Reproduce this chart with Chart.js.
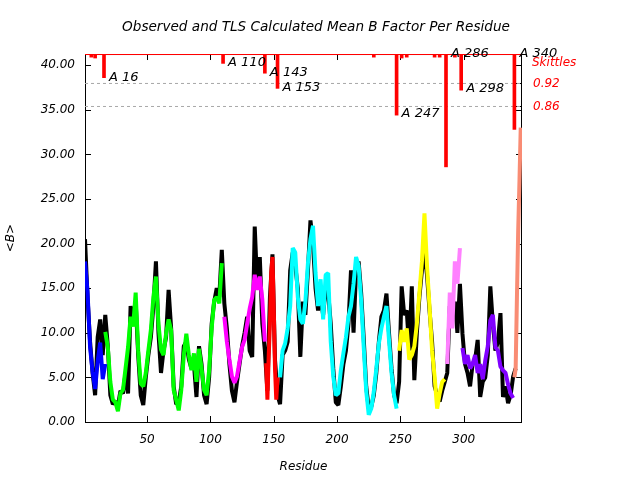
<!DOCTYPE html>
<html>
<head>
<meta charset="utf-8">
<script src="https://cdn.jsdelivr.net/npm/chart.js@4.4.0/dist/chart.umd.min.js"></script>
<style>
  html, body { margin: 0; padding: 0; background: #fff; }
</style>
</head>
<body>
<canvas id="chart" width="640" height="480"></canvas>
<script>
const X_MIN = 1, X_MAX = 346, Y_MAX = 41.25;
const FONT = 'DejaVu Sans';

// observed mean B, every second residue from 1
const OBS_START = 1, OBS_STEP = 2;
const observed = [
    20.5, 14.0, 9.0, 5.5, 3.0, 9.5, 11.5, 7.5, 12.0, 8.5,
    3.0, 2.0, 2.3, 1.8, 3.5, 3.2, 5.5, 3.2, 13.0, 11.5,
    13.5, 7.5, 3.0, 1.9, 5.0, 7.5, 9.5, 13.0, 18.0, 10.0,
    5.5, 8.0, 9.5, 14.8, 10.5, 4.0, 2.0, 2.2, 4.0, 8.5,
    9.0, 7.0, 6.0, 6.5, 2.8, 8.5, 6.5, 3.0, 2.0, 5.0,
    11.0, 13.5, 15.0, 14.0, 19.3, 13.3, 10.5, 6.5, 3.5, 2.2,
    4.5, 6.5, 8.5, 10.0, 11.8, 8.0, 7.3, 21.9, 15.0, 18.5,
    11.0, 8.0, 3.5, 14.0, 18.8, 7.0, 3.0, 2.0, 7.5, 8.0,
    9.0, 17.0, 19.0, 17.5, 15.0, 7.3, 13.5, 12.0, 17.0, 22.6,
    20.0, 15.0, 12.5, 14.0, 12.0, 15.0, 14.5, 11.0, 6.0, 2.2,
    1.9, 4.0, 6.5, 8.0, 11.0, 17.0, 10.0, 17.0, 18.0, 14.5,
    9.5, 4.0, 1.5, 1.7, 3.0, 5.5, 9.0, 11.8, 12.5, 14.4,
    10.0, 6.0, 3.0, 2.1, 4.5, 15.2, 12.0, 12.5, 8.0, 15.2,
    4.7, 10.0, 14.0, 17.0, 19.0, 16.5, 12.5, 9.0, 4.0, 3.0,
    2.3, 3.5, 4.5, 5.5, 13.0, 12.0, 13.5, 10.0, 15.5, 9.9,
    6.5, 5.5, 4.0, 6.5, 7.0, 9.2, 2.8, 4.5, 5.0, 7.5,
    15.2, 11.0, 8.0, 9.0, 12.2, 2.8, 4.0, 2.1, 3.0, 5.1,
    6.0,
];

// TLS calculated B, one array per TLS group
const tlsBlue = [18.0, 14.6, 8.4, 5.6, 3.7, 6.8, 8.9, 4.8, 6.5];
const tlsGreen = [
    10.1, 8.4, 4.5, 2.5, 2.2, 1.2, 3.2, 3.6, 6.0, 8.4,
    11.8, 10.7, 14.5, 8.0, 4.3, 4.0, 5.5, 8.0, 10.3, 14.0,
    16.3, 11.0, 8.1, 7.5, 9.9, 11.5, 10.3, 3.6, 2.5, 1.3,
    3.6, 7.5, 9.9, 7.5, 5.8, 7.7, 4.5, 8.2, 6.0, 3.6,
    3.0, 5.8, 10.5, 13.7, 14.0, 13.3, 17.8,
];
const tlsMagenta = [11.8, 9.0, 7.0, 5.1, 4.4, 5.1, 6.8, 8.4, 9.2, 11.0, 12.7, 14.0, 16.5, 14.8, 16.3, 13.7, 9.0];
const tlsRed = [6.6, 2.5, 7.3, 11.0, 16.7, 18.5, 12.9, 6.0, 2.5, 5.0];
const tlsCyan = [
    5.0, 8.0, 8.8, 10.5, 13.0, 19.5, 19.0, 14.0, 11.5, 11.0,
    13.5, 17.8, 20.5, 22.0, 16.7, 13.0, 16.0, 11.5, 16.5, 16.7,
    9.0, 5.1, 3.0, 3.2, 5.8, 7.7, 9.5, 11.8, 13.0, 15.5,
    18.5, 17.5, 13.7, 8.5, 3.5, 0.8, 1.5, 3.4, 6.0, 8.8,
    10.5, 11.8, 13.0, 9.2, 5.5, 3.0, 1.5,
];
const tlsYellow = [8.0, 10.3, 9.0, 10.5, 7.0, 7.5, 8.5, 11.0, 14.5, 18.0, 23.4, 17.5, 12.9, 8.0, 5.1, 1.5, 3.2, 4.5, 4.8];
const tlsPink = [6.5, 14.5, 10.5, 18.0, 15.5, 19.5];
const tlsPurple = [8.3, 6.5, 7.5, 6.0, 6.5, 7.5, 5.5, 6.5, 4.8, 6.9, 8.5, 11.4, 12.0, 8.4, 8.0, 6.2, 5.8, 5.5, 4.2, 3.2, 2.7];
const tlsSalmon = [5.0, 6.0, 14.0, 21.5, 27.0, 33.0];

const tlsGroups = [tlsBlue, tlsGreen, tlsMagenta, tlsRed, tlsCyan, tlsYellow, tlsPink, tlsPurple, tlsSalmon];
const tlsStarts = [1, 17, 111, 144, 155, 249, 287, 299, 340];
const tlsSteps = [2, 2, 2, 1, 2, 2, 2, 2, 1];
const tlsColors = ['#0000ff', '#00ff00', '#ff00ff', '#ff0000', '#00ffff', '#ffff00', '#ff80ff', '#8000ff', '#f98c74'];

// Skittles group breaks (red spikes from the top)
const breakResidues = [6, 9, 16, 110, 143, 153, 229, 247, 251, 255, 277, 281, 286, 293, 298, 340];
const breakLows = [40.9, 40.8, 38.6, 40.2, 39.1, 37.4, 40.9, 34.4, 40.8, 40.9, 40.9, 40.9, 28.6, 40.9, 37.2, 32.8];
const breakNames = ['', '', 'A 16', 'A 110', 'A 143', 'A 153', '', 'A 247', '', '', '', '', 'A 286', '', 'A 298', 'A 340'];
const breakLabelY = [0, 0, 38.6, 40.3, 39.2, 37.5, 0, 34.6, 0, 0, 0, 0, 41.25, 0, 37.4, 41.25];

// Skittles cutoff levels
const cutoffValues = [37.95, 35.37];
const cutoffNames = ['0.92', '0.86'];
const SKITTLES_Y = 40.3;


function toPoints(values, start, step) {
    return values.map((v, k) => ({x: start + k * step, y: v}));
}

const datasets = [];

datasets.push({
    type: 'line',
    label: 'Observed',
    data: toPoints(observed, OBS_START, OBS_STEP),
    borderColor: '#000000',
    borderWidth: 4,
    order: 3,
});

tlsGroups.forEach((vals, k) => {
    datasets.push({
        type: 'line',
        label: 'TLS ' + (k + 1),
        data: toPoints(vals, tlsStarts[k], tlsSteps[k]),
        borderColor: tlsColors[k],
        borderWidth: 4,
        order: 2,
    });
});

cutoffValues.forEach((v) => {
    datasets.push({
        type: 'line',
        data: [{x: X_MIN, y: v}, {x: X_MAX, y: v}],
        borderColor: '#a8a8a8',
        borderWidth: 1,
        borderDash: [3, 3],
        order: 4,
    });
});

datasets.push({
    type: 'line',
    data: [{x: X_MIN, y: Y_MAX}, {x: X_MAX, y: Y_MAX}],
    borderColor: '#ff0000',
    borderWidth: 2,
    order: 0,
});

datasets.push({
    type: 'bar',
    data: breakResidues.map((r, k) => ({x: r, y: [breakLows[k], Y_MAX]})),
    backgroundColor: '#ff0000',
    barThickness: 3,
    grouped: false,
    order: 0,
});


const decor = {
    id: 'decor',
    beforeDatasetsDraw(chart) {
        const {ctx, chartArea: a, scales} = chart;
        ctx.save();
        ctx.strokeStyle = '#000';
        ctx.lineWidth = 1;
        ctx.strokeRect(a.left + 0.5, a.top + 0.5, a.right - a.left - 1, a.bottom - a.top);
        ctx.beginPath();
        for (let t of scales.y.ticks) {
            let y = Math.round(scales.y.getPixelForValue(t.value)) + 0.5;
            ctx.moveTo(a.left, y); ctx.lineTo(a.left + 6, y);
            ctx.moveTo(a.right, y); ctx.lineTo(a.right - 6, y);
        }
        for (let v of cutoffValues) {
            let y = Math.round(scales.y.getPixelForValue(v)) + 0.5;
            ctx.moveTo(a.right, y); ctx.lineTo(a.right - 6, y);
        }
        for (let t of scales.x.ticks) {
            let x = Math.round(scales.x.getPixelForValue(t.value)) + 0.5;
            ctx.moveTo(x, a.bottom); ctx.lineTo(x, a.bottom - 6);
            ctx.moveTo(x, a.top); ctx.lineTo(x, a.top + 6);
        }
        ctx.stroke();
        ctx.restore();
    },
    afterDatasetsDraw(chart) {
        const {ctx, chartArea: a, scales} = chart;
        ctx.save();
        ctx.font = `italic 13px "${FONT}"`;
        ctx.fillStyle = '#000';
        ctx.textAlign = 'left';
        ctx.textBaseline = 'middle';
        breakNames.forEach((name, k) => {
            if (!name) return;
            ctx.fillText(name, scales.x.getPixelForValue(breakResidues[k]) + 5, scales.y.getPixelForValue(breakLabelY[k]));
        });
        ctx.font = `italic 12px "${FONT}"`;
        ctx.fillStyle = '#ff0000';
        ctx.fillText('Skittles', a.right + 10, scales.y.getPixelForValue(SKITTLES_Y));
        cutoffNames.forEach((name, k) => {
            ctx.fillText(name, a.right + 11, scales.y.getPixelForValue(cutoffValues[k]));
        });
        ctx.restore();
    },
};

const textFont = {family: FONT, size: 12, style: 'italic', weight: 'normal'};

const config = {
    type: 'line',
    data: {datasets: datasets},
    options: {
        responsive: false,
        animation: false,
        devicePixelRatio: 1,
        layout: {padding: {left: 0, right: 8, top: 0, bottom: 0}},
        elements: {
            point: {radius: 0},
            line: {tension: 0, borderJoinStyle: 'bevel', borderCapStyle: 'butt'},
        },
        plugins: {
            legend: {display: false},
            tooltip: {enabled: false},
            title: {
                display: true,
                text: 'Observed and TLS Calculated Mean B Factor Per Residue',
                font: {family: FONT, size: 13.6, style: 'italic', weight: 'normal', lineHeight: 1.2},
                color: '#000',
                padding: {top: 19, bottom: 18.7},
            },
        },
        scales: {
            x: {
                type: 'linear',
                min: X_MIN,
                max: X_MAX,
                offset: false,
                grid: {display: false, drawTicks: false},
                border: {display: false},
                ticks: {stepSize: 50, includeBounds: false, font: textFont, color: '#000', padding: 11, maxRotation: 0},
                title: {display: true, text: 'Residue', font: textFont, color: '#000', padding: {top: 4, bottom: 6}},
                afterFit: (scale) => { scale.height = 58; },
            },
            y: {
                type: 'linear',
                min: 0,
                max: Y_MAX,
                grid: {display: false, drawTicks: false},
                border: {display: false},
                ticks: {stepSize: 5, includeBounds: false, font: textFont, color: '#000', padding: 10,
                        callback: (v) => v.toFixed(2)},
                title: {display: true, text: '<B>', font: textFont, color: '#000', padding: {top: 4, bottom: 0}},
                afterFit: (scale) => { scale.width = 85; },
            },
            // empty right margin where the Skittles labels sit
            y2: {
                type: 'linear',
                position: 'right',
                min: 0,
                max: Y_MAX,
                grid: {display: false, drawTicks: false},
                border: {display: false},
                ticks: {display: false},
                afterFit: (scale) => { scale.width = 110; },
            },
        },
    },
    plugins: [decor],
};

new Chart('chart', config);
</script>
</body>
</html>
